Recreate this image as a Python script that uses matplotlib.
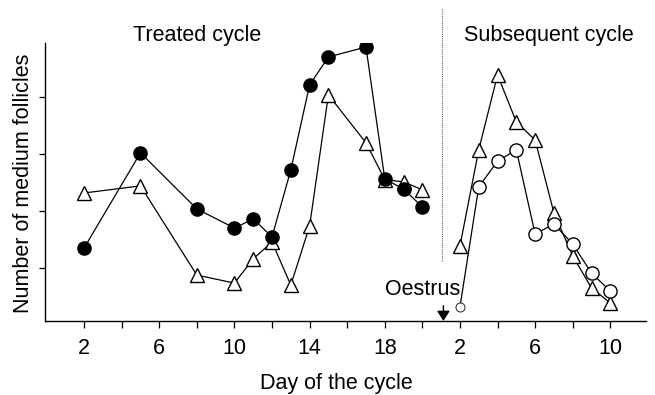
import matplotlib
matplotlib.use("Agg")
import matplotlib.pyplot as plt
from matplotlib.ticker import FixedLocator

plt.rcParams['font.family'] = ['Liberation Sans', 'DejaVu Sans']

# Treated cycle (day of cycle)
treated_days = [2, 5, 8, 10, 11, 12, 13, 14, 15, 17, 18, 19, 20]
treated_filled = [2.70, 6.04, 4.07, 3.40, 3.72, 3.09, 5.44, 8.42, 9.40, 9.75, 5.12, 4.77, 4.14]
treated_triangle = [4.63, 4.88, 1.75, 1.47, 2.32, 2.91, 1.40, 3.47, 8.07, 6.39, 5.10, 5.02, 4.74]

# Subsequent cycle (day of cycle; plotted after an offset of 20)
subsequent_days = [2, 3, 4, 5, 6, 7, 8, 9, 10]
subsequent_triangle = [2.77, 6.14, 8.77, 7.12, 6.49, 3.93, 2.42, 1.30, 0.77]
subsequent_circle = [0.63, 4.84, 5.75, 6.14, 3.19, 3.54, 2.84, 1.82, 1.19]
subsequent_offset = 20

major_ticks = [2, 6, 10, 14, 18, 22, 26, 30]
major_labels = ['2', '6', '10', '14', '18', '2', '6', '10']
minor_ticks = [4, 8, 12, 16, 20, 24, 28]
y_ticks = [2, 4, 6, 8]
oestrus_x = 21.12
divider_x = 21.04

W, H = 655, 395
FS = 15.5
fig = plt.figure(figsize=(W / 100, H / 100), dpi=100)
ax = fig.add_axes([45 / W, 1 - 321 / H, (646 - 45) / W, (321 - 43) / H])

lw = 0.9
mk = dict(markersize=9.5, markeredgewidth=1.0, markeredgecolor='black')

ax.plot(treated_days, treated_triangle, color='black', lw=lw, marker='^',
        markerfacecolor='white', zorder=2, **mk)
ax.plot(treated_days, treated_filled, color='black', lw=lw, marker='o',
        markerfacecolor='black', zorder=3, **mk)

sx = [d + subsequent_offset for d in subsequent_days]
ax.plot(sx, subsequent_triangle, color='black', lw=lw, marker='^',
        markerfacecolor='white', zorder=2, **mk)
ax.plot(sx, subsequent_circle, color='black', lw=lw, zorder=3)
ax.plot(sx[1:], subsequent_circle[1:], linestyle='none', marker='o',
        markerfacecolor='white', zorder=4, **mk)
ax.plot(sx[:1], subsequent_circle[:1], linestyle='none', marker='o',
        markerfacecolor='white', markersize=6.5, markeredgewidth=0.6,
        markeredgecolor='black', zorder=4)

ax.set_xlim(-0.08, 31.9)
ax.set_ylim(0.14, 9.89)

ax.xaxis.set_major_locator(FixedLocator(major_ticks))
ax.set_xticklabels(major_labels)
ax.xaxis.set_minor_locator(FixedLocator(minor_ticks))
ax.set_yticks(y_ticks)
ax.set_yticklabels([])

for s in ['top', 'right']:
    ax.spines[s].set_visible(False)
for s in ['left', 'bottom']:
    ax.spines[s].set_linewidth(1.0)

ax.tick_params(axis='x', which='major', length=5, width=0.9, labelsize=FS, pad=7)
ax.tick_params(axis='x', which='minor', length=5, width=0.9)
ax.tick_params(axis='y', which='major', length=4, width=0.9)

# divider between cycles
ax.axvline(divider_x, ymin=(321 - 261) / 278, ymax=(321 - 8) / 278,
           color='#666666', lw=0.8, linestyle=(0, (1, 1)), clip_on=False)

# oestrus arrow
ax.annotate('', xy=(oestrus_x, 0.14), xytext=(oestrus_x, 0.68),
            arrowprops=dict(arrowstyle='-|>,head_length=0.55,head_width=0.35',
                            color='black', lw=1.0, mutation_scale=11,
                            shrinkA=0, shrinkB=0))
ax.text(20.0, 1.23, 'Oestrus', ha='center', va='center', fontsize=FS)

fig.text(197.5 / W, 1 - 36 / H, 'Treated cycle', ha='center', va='center', fontsize=FS)
fig.text(549 / W, 1 - 36 / H, 'Subsequent cycle', ha='center', va='center', fontsize=FS)
fig.text(336 / W, 1 - 383 / H, 'Day of the cycle', ha='center', va='center', fontsize=FS)
fig.text(24 / W, 1 - 183 / H, 'Number of medium follicles', ha='center', va='center',
         fontsize=FS, rotation=90)

fig.savefig('out.png', dpi=100)
